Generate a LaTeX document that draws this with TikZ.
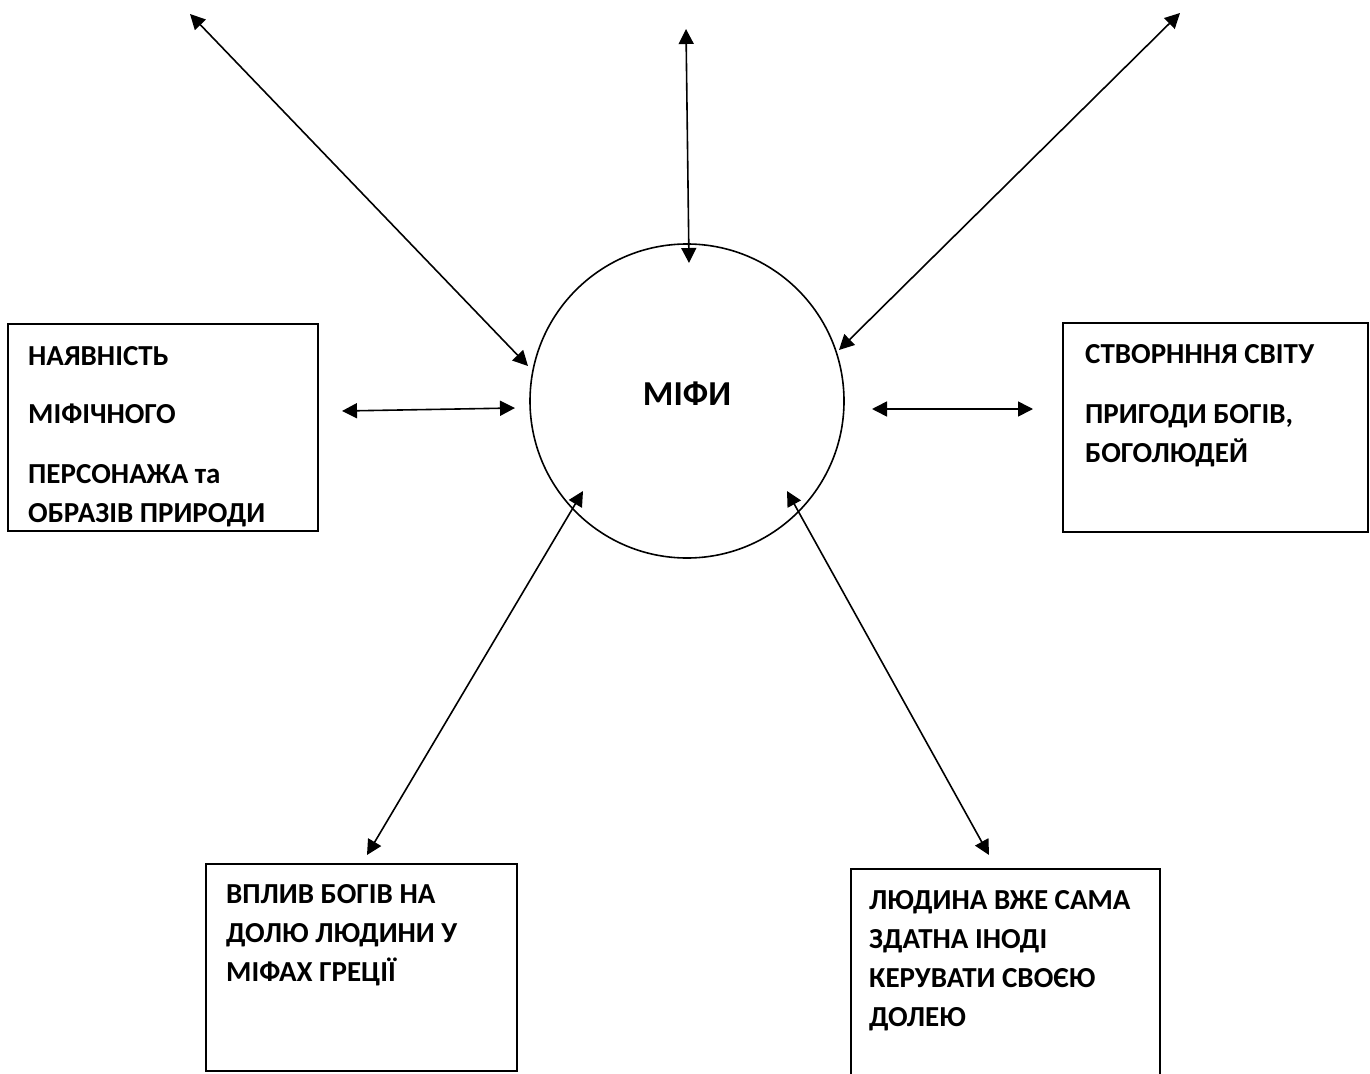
\documentclass[tikz,border=0pt]{standalone}
\usepackage{fontspec}
\setmainfont{Carlito}
\usetikzlibrary{arrows.meta}
\begin{document}
\begin{tikzpicture}[x=1pt,y=-1pt,
  box/.style={draw, line width=1.8pt, inner sep=0pt, outer sep=0pt, anchor=north west},
  lbl/.style={anchor=base west, inner sep=0pt, font=\fontsize{29}{34}\selectfont\bfseries},
  link/.style={line width=1.6pt, {Triangle[length=15pt,width=15pt]}-{Triangle[length=15pt,width=15pt]}}
]
\useasboundingbox (0,0) rectangle (1370,1073);
\clip (0,0) rectangle (1370,1073);
\fill[white] (0,0) rectangle (1370,1073);

% boxes
\node[box, minimum width=310pt, minimum height=207pt] (lbox) at (8,324) {};
\node[box, minimum width=305pt, minimum height=209pt] (rbox) at (1063,323) {};
\node[box, minimum width=311pt, minimum height=207pt] (blbox) at (206,864) {};
\node[box, minimum width=309pt, minimum height=230pt] (brbox) at (851,869) {};

% central circle
\node[draw, circle, line width=1.6pt, minimum size=314pt, inner sep=0pt] (myth) at (687,401) {};
\node[anchor=base, inner sep=0pt, font=\fontsize{35}{40}\selectfont\bfseries] (mythtxt) at (687,405) {МІФИ};

% texts
\node[lbl] (l1) at (28,365) {НАЯВНІСТЬ};
\node[lbl] (l2) at (28,423) {МІФІЧНОГО};
\node[lbl] (l3) at (28,483) {ПЕРСОНАЖА та};
\node[lbl] (l4) at (28,522) {ОБРАЗІВ ПРИРОДИ};

\node[lbl] (r1) at (1085,363) {СТВОРНННЯ СВІТУ};
\node[lbl] (r2) at (1085,423) {ПРИГОДИ БОГІВ,};
\node[lbl] (r3) at (1085,462) {БОГОЛЮДЕЙ};

\node[lbl] (b1) at (226,903) {ВПЛИВ БОГІВ НА};
\node[lbl] (b2) at (226,942) {ДОЛЮ ЛЮДИНИ У};
\node[lbl] (b3) at (226,981) {МІФАХ ГРЕЦІЇ};

\node[lbl] (c1) at (869,909) {ЛЮДИНА ВЖЕ САМА};
\node[lbl] (c2) at (869,948) {ЗДАТНА ІНОДІ};
\node[lbl] (c3) at (869,987) {КЕРУВАТИ СВОЄЮ};
\node[lbl] (c4) at (869,1026) {ДОЛЕЮ};

% connector ends
\coordinate (tlA) at (190,14);   \coordinate (tlB) at (528,366);
\coordinate (tA) at (686,29);    \coordinate (tB) at (689,263);
\coordinate (trA) at (1180,13);  \coordinate (trB) at (839,350);
\coordinate (lA) at (342,411);   \coordinate (lB) at (515,408);
\coordinate (rA) at (872,409);   \coordinate (rB) at (1033,409);
\coordinate (blA) at (583,491);  \coordinate (blB) at (367,855);
\coordinate (brA) at (787,491);  \coordinate (brB) at (989,855);

\draw[link] (tlA) -- (tlB);
\draw[link] (tA) -- (tB);
\draw[link] (trA) -- (trB);
\draw[link] (lA) -- (lB);
\draw[link] (rA) -- (rB);
\draw[link] (blA) -- (blB);
\draw[link] (brA) -- (brB);
\end{tikzpicture}
\end{document}
